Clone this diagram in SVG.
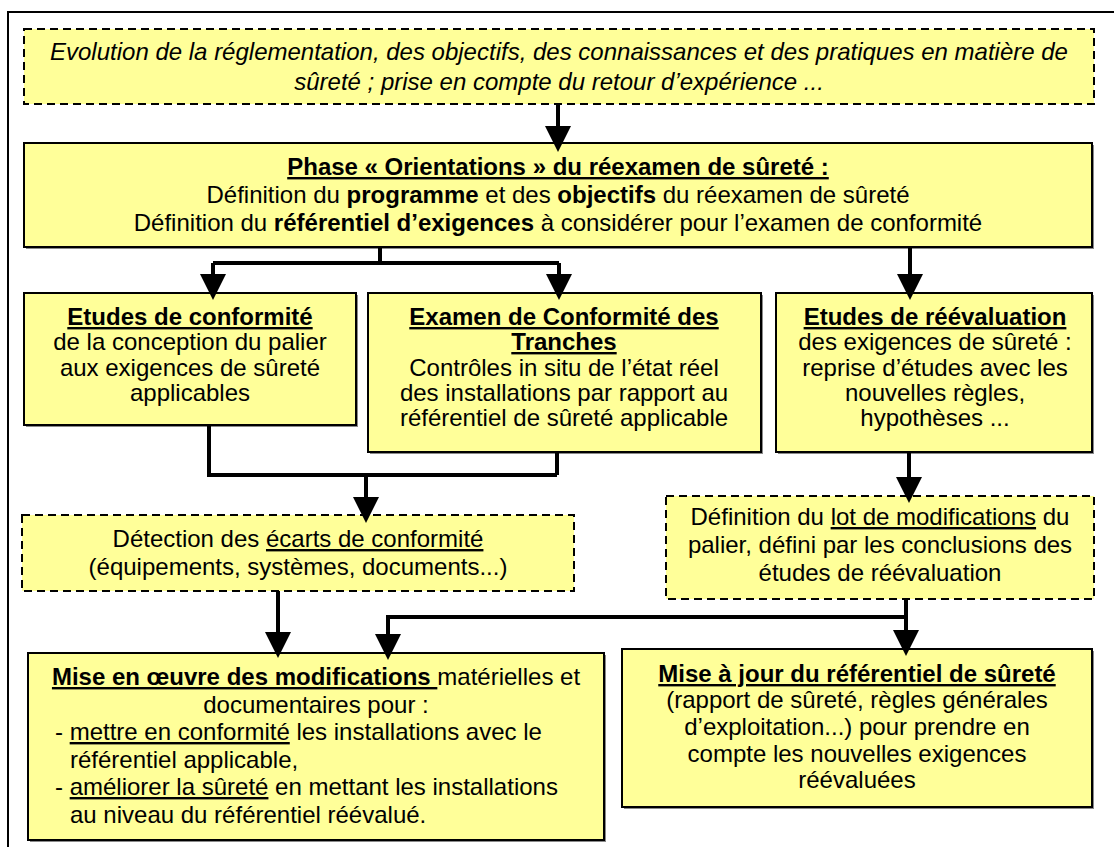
<svg xmlns="http://www.w3.org/2000/svg" width="1114" height="847" viewBox="0 0 1114 847">
<style>
.frame{fill:none;stroke:#000;stroke-width:2}
.box{fill:#FFFF99;stroke:#000;stroke-width:2}
.sh{fill:#8a8a8a}
.dash{fill:#FFFF99;stroke:#000;stroke-width:2;stroke-dasharray:8 5}
.t{font-family:"Liberation Sans",Arial,sans-serif;font-size:24px;fill:#000}
.c{text-anchor:middle}
.b{font-weight:bold}
.u{text-decoration:underline}
.i{font-style:italic}
.conn{fill:none;stroke:#000;stroke-width:4}
</style>
<defs>
<marker id="ah" markerUnits="userSpaceOnUse" markerWidth="26" markerHeight="26" viewBox="0 0 26 26" refX="12" refY="13" orient="auto">
<path d="M0,0 L26,13 L0,26 z" fill="#000"/>
</marker>
</defs>
<rect class="frame" x="8" y="12" width="1130" height="860"/>

<g id="n-evolution">
<rect class="dash" x="24" y="29" width="1070" height="75"/>
<text class="t i c" x="559" y="60">Evolution de la réglementation, des objectifs, des connaissances et des pratiques en matière de</text>
<text class="t i c" x="559" y="90">sûreté ; prise en compte du retour d’expérience ...</text>
</g>

<g id="n-orientations">
<rect class="sh" x="26" y="145" width="1068" height="104"/>
<rect class="box" x="24" y="143" width="1068" height="104"/>
<text class="t c" x="558" y="175"><tspan class="b u">Phase « Orientations » du réexamen de sûreté :</tspan></text>
<text class="t c" x="558" y="203">Définition du <tspan class="b">programme</tspan> et des <tspan class="b">objectifs</tspan> du réexamen de sûreté</text>
<text class="t c" x="558" y="231">Définition du <tspan class="b">référentiel d’exigences</tspan> à considérer pour l’examen de conformité</text>
</g>

<g id="n-etudes-conformite">
<rect class="sh" x="26" y="295" width="332" height="132"/>
<rect class="box" x="24" y="293" width="332" height="132"/>
<text class="t c" x="190" y="325"><tspan class="b u">Etudes de conformité</tspan></text>
<text class="t c" x="190" y="350">de la conception du palier</text>
<text class="t c" x="190" y="376">aux exigences de sûreté</text>
<text class="t c" x="190" y="401">applicables</text>
</g>

<g id="n-examen-tranches">
<rect class="sh" x="370" y="295" width="393" height="159"/>
<rect class="box" x="368" y="293" width="393" height="159"/>
<text class="t c" x="564" y="325"><tspan class="b u">Examen de Conformité des</tspan></text>
<text class="t c" x="564" y="350"><tspan class="b u">Tranches</tspan></text>
<text class="t c" x="564" y="376">Contrôles in situ de l’état réel</text>
<text class="t c" x="564" y="401">des installations par rapport au</text>
<text class="t c" x="564" y="426">référentiel de sûreté applicable</text>
</g>

<g id="n-reevaluation">
<rect class="sh" x="778" y="295" width="316" height="159"/>
<rect class="box" x="776" y="293" width="316" height="159"/>
<text class="t c" x="935" y="325"><tspan class="b u">Etudes de réévaluation</tspan></text>
<text class="t c" x="935" y="350">des exigences de sûreté :</text>
<text class="t c" x="935" y="376">reprise d’études avec les</text>
<text class="t c" x="935" y="401">nouvelles règles,</text>
<text class="t c" x="935" y="426">hypothèses ...</text>
</g>

<g id="n-detection">
<rect class="dash" x="22" y="515" width="552" height="76"/>
<text class="t c" x="298" y="547">Détection des <tspan class="u">écarts de conformité</tspan></text>
<text class="t c" x="298" y="575">(équipements, systèmes, documents...)</text>
</g>

<g id="n-lot-modifications">
<rect class="dash" x="666" y="496" width="428" height="103"/>
<text class="t c" x="880" y="525">Définition du <tspan class="u">lot de modifications</tspan> du</text>
<text class="t c" x="880" y="553">palier, défini par les conclusions des</text>
<text class="t c" x="880" y="581">études de réévaluation</text>
</g>

<g id="n-mise-en-oeuvre">
<rect class="sh" x="30" y="655" width="576" height="187"/>
<rect class="box" x="28" y="653" width="576" height="187"/>
<text class="t c" x="316" y="685"><tspan class="b u">Mise en œuvre des modifications </tspan>matérielles et</text>
<text class="t c" x="316" y="713">documentaires pour :</text>
<text class="t" x="55" y="740">- <tspan class="u">mettre en conformité</tspan> les installations avec le</text>
<text class="t" x="70" y="768">référentiel applicable,</text>
<text class="t" x="55" y="795">- <tspan class="u">améliorer la sûreté</tspan> en mettant les installations</text>
<text class="t" x="70" y="823">au niveau du référentiel réévalué.</text>
</g>

<g id="n-mise-a-jour">
<rect class="sh" x="624" y="651" width="470" height="158"/>
<rect class="box" x="622" y="649" width="470" height="158"/>
<text class="t c" x="857" y="682"><tspan class="b u">Mise à jour du référentiel de sûreté</tspan></text>
<text class="t c" x="857" y="708">(rapport de sûreté, règles générales</text>
<text class="t c" x="857" y="735">d’exploitation...) pour prendre en</text>
<text class="t c" x="857" y="762">compte les nouvelles exigences</text>
<text class="t c" x="857" y="788">réévaluées</text>
</g>

<g id="connectors">
<path class="conn" d="M558,104 V138" marker-end="url(#ah)"/>
<path class="conn" d="M380,247 V263 M213,263 H559"/>
<path class="conn" d="M213,263 V286" marker-end="url(#ah)"/>
<path class="conn" d="M559,263 V286" marker-end="url(#ah)"/>
<path class="conn" d="M910,247 V286" marker-end="url(#ah)"/>
<path class="conn" d="M209,425 V475 H557 M557,452 V475"/>
<path class="conn" d="M366,475 V509" marker-end="url(#ah)"/>
<path class="conn" d="M909,452 V489" marker-end="url(#ah)"/>
<path class="conn" d="M278,591 V644" marker-end="url(#ah)"/>
<path class="conn" d="M906,599 V642" marker-end="url(#ah)"/>
<path class="conn" d="M906,617 H388 V646" marker-end="url(#ah)"/>
</g>
</svg>
